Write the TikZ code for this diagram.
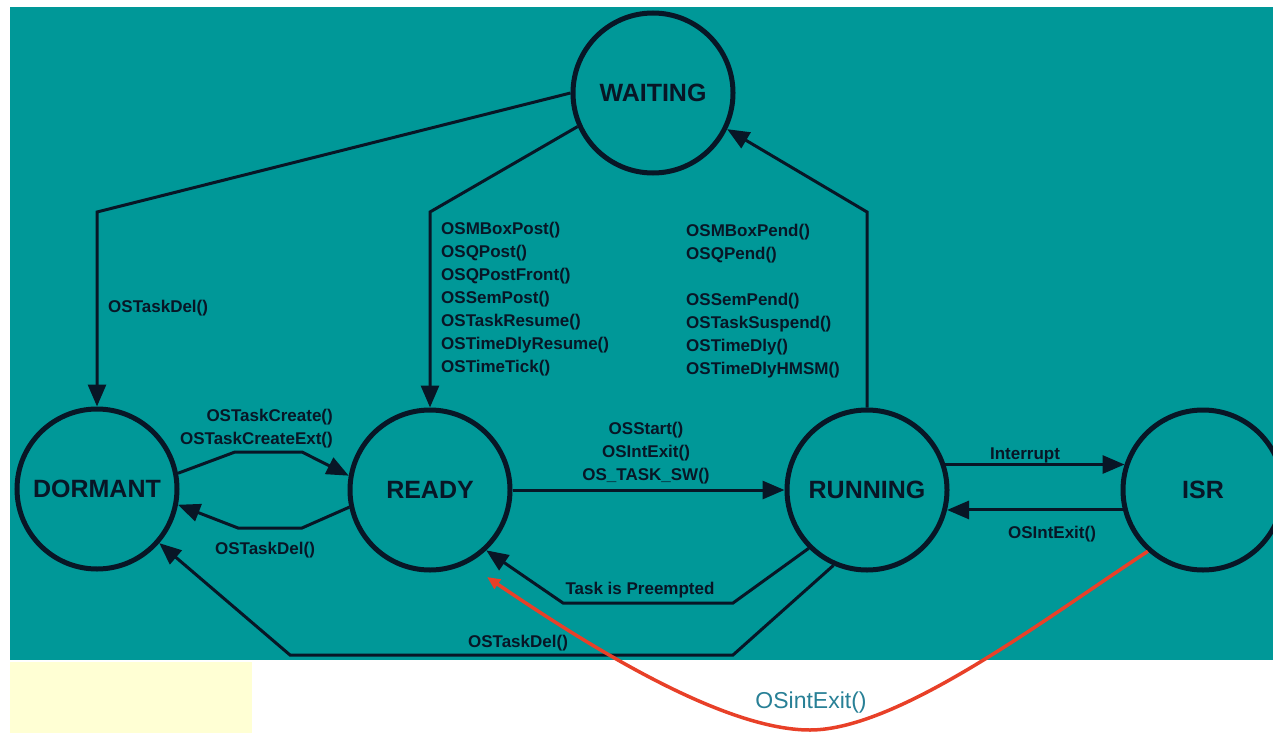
\documentclass[tikz,border=0pt]{standalone}
\usepackage{fontspec}
\setmainfont{Liberation Sans}
\usetikzlibrary{arrows.meta,calc}
\definecolor{teal1}{RGB}{0,152,152}
\definecolor{ink}{RGB}{8,22,38}
\definecolor{redc}{RGB}{232,64,40}
\definecolor{lblc}{RGB}{40,128,150}
\definecolor{pale}{RGB}{255,255,212}
\begin{document}
\begin{tikzpicture}[x=1pt,y=-1pt,
  state/.style={circle,draw=ink,line width=5pt,minimum size=160pt,inner sep=0pt,
    font=\fontsize{25}{30}\selectfont\bfseries,text=ink},
  conn/.style={draw=ink,line width=3pt,-{Triangle[length=22pt,width=18pt]}},
  lbl/.style={font=\fontsize{17}{23}\selectfont\bfseries,text=ink,inner sep=0pt},
  redarrow/.style={draw=redc,line width=3.5pt,-{Triangle[length=13pt,width=11pt]}},
]
\useasboundingbox (0,0) rectangle (1273,733);
\fill[white] (0,0) rectangle (1273,733);
\fill[teal1] (10,7) rectangle (1273,660);
\fill[pale] (10,662) rectangle (252,733);

% states
\node[state] (waiting) at (653,93) {WAITING};
\node[state] (dormant) at (97,489) {DORMANT};
\node[state] (ready) at (430,490) {READY};
\node[state] (running) at (867,490) {RUNNING};
\node[state] (isr) at (1203,490) {ISR};

% connectors
\draw[conn] (waiting.west) -- (97,212) -- (dormant.north);
\draw[conn] (waiting.204) -- (430,212) -- (ready.north);
\draw[conn] (running.north) -- (867,212) -- (waiting.-26);
\draw[conn] (dormant.11) -- (235,452) -- (302,452) -- (ready.170);
\draw[conn] (ready.192) -- (302,528) -- (238,528) -- (dormant.-11);
\draw[conn] (ready.east) -- (running.west);
\draw[conn] (running.18) -- (isr.162);
\draw[conn] (isr.194.5) -- (running.-14.5);
\draw[conn] (running.225) -- (733,603) -- (563,603) -- (ready.-47);
\draw[conn] (running.246) -- (733,655) -- (290,655) -- (dormant.-41);

% red curve
\coordinate (redend) at (487,577);
\draw[redarrow] (isr.228) .. controls (1050,615) and (900,730) .. (810,730)
  .. controls (720,730) and (580,640) .. (redend);

% labels
\node[lbl,anchor=west] (delA) at (108,308) {OSTaskDel()};
\node[lbl,anchor=north west,align=left] (posts) at (441,222)
  {OSMBoxPost()\\OSQPost()\\OSQPostFront()\\OSSemPost()\\OSTaskResume()\\OSTimeDlyResume()\\OSTimeTick()};
\node[lbl,anchor=north west,align=left] (pends) at (686,224)
  {OSMBoxPend()\\OSQPend()\\[23pt]OSSemPend()\\OSTaskSuspend()\\OSTimeDly()\\OSTimeDlyHMSM()};
\node[lbl,anchor=north east,align=right] (create) at (333,409)
  {OSTaskCreate()\\OSTaskCreateExt()};
\node[lbl] (delB) at (265,550) {OSTaskDel()};
\node[lbl,anchor=north,align=center] (start) at (646,422)
  {OSStart()\\OSIntExit()\\OS\_TASK\_SW()};
\node[lbl] (intr) at (1025,455) {Interrupt};
\node[lbl] (intexit) at (1052,534) {OSIntExit()};
\node[lbl] (preempt) at (640,590) {Task is Preempted};
\node[lbl] (delC) at (518,643) {OSTaskDel()};
\node[font=\fontsize{23}{27}\selectfont,text=lblc,inner sep=0pt] (exitlbl) at (811,703) {OSintExit()};
\end{tikzpicture}
\end{document}
